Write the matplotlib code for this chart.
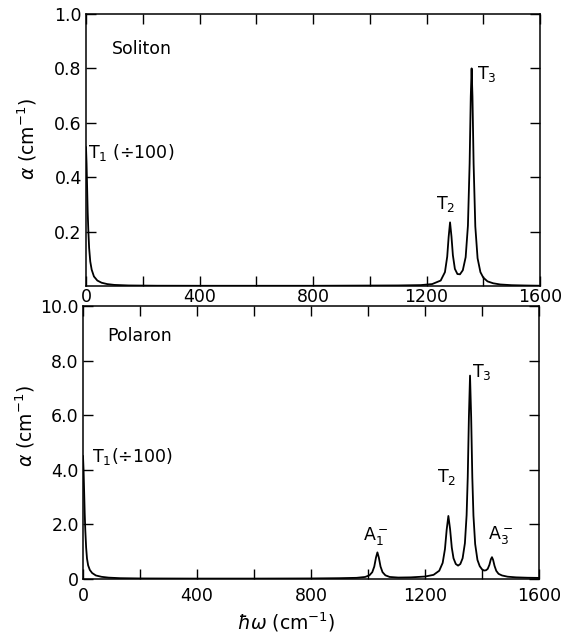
import matplotlib
matplotlib.use("Agg")
import matplotlib.pyplot as plt
from matplotlib.ticker import MultipleLocator, FixedLocator

# Soliton spectrum (top panel)
sol_w = [0, 2, 4, 6, 8, 11, 15, 20, 28, 40, 55, 75, 100, 150, 250, 400, 800, 1100,
         1180, 1220, 1250, 1265, 1273, 1278, 1283, 1288, 1293, 1300, 1309, 1318,
         1328, 1338, 1346, 1352, 1356, 1359, 1362, 1366, 1372, 1380, 1390, 1400,
         1415, 1435, 1460, 1500, 1550, 1600]
sol_a = [0.51, 0.45, 0.36, 0.27, 0.21, 0.14, 0.09, 0.06, 0.035, 0.02, 0.012, 0.007,
         0.004, 0.002, 0.001, 0.0008, 0.0008, 0.002,
         0.0033, 0.0071, 0.020, 0.051, 0.108, 0.180, 0.234, 0.182, 0.113, 0.063,
         0.044, 0.043, 0.058, 0.106, 0.222, 0.451, 0.696, 0.80, 0.696, 0.450,
         0.219, 0.102, 0.051, 0.031, 0.017, 0.010, 0.0056, 0.003, 0.0018, 0.001]

# Polaron spectrum (bottom panel)
pol_w = [0, 2, 4, 6, 8, 11, 14, 18, 24, 32, 45, 65, 90, 130, 200, 400, 600, 800,
         900, 960, 990, 1005, 1015, 1022, 1028, 1033, 1038, 1044, 1051, 1061, 1076,
         1106, 1150, 1200, 1230, 1250, 1262, 1270, 1276, 1282, 1288, 1294, 1300,
         1308, 1316, 1324, 1332, 1340, 1346, 1350, 1354, 1358, 1362, 1366, 1370,
         1376, 1384, 1392, 1400, 1407, 1414, 1420, 1426, 1431, 1435, 1439, 1444,
         1450, 1458, 1470, 1490, 1520, 1560, 1600]
pol_a = [4.5, 4.0, 3.2, 2.4, 1.8, 1.15, 0.75, 0.5, 0.33, 0.22, 0.13, 0.08, 0.05,
         0.03, 0.02, 0.015, 0.015, 0.02,
         0.03, 0.043, 0.075, 0.135, 0.25, 0.455, 0.785, 0.975, 0.785, 0.455, 0.25,
         0.135, 0.075, 0.053, 0.06, 0.09, 0.152, 0.303, 0.59, 1.095, 1.80, 2.31,
         1.83, 1.15, 0.76, 0.55, 0.49, 0.55, 0.76, 1.31, 2.34, 3.74, 5.92, 7.45,
         5.92, 3.73, 2.32, 1.28, 0.70, 0.47, 0.355, 0.31, 0.32, 0.37, 0.52, 0.72,
         0.80, 0.70, 0.48, 0.30, 0.19, 0.13, 0.084, 0.06, 0.046, 0.04]

x_ticks = [0, 400, 800, 1200, 1600]
x_tick_labels = ["0", "400", "800", "1200", "1600"]
sol_yticks = [0.2, 0.4, 0.6, 0.8, 1.0]
sol_ylabels = ["0.2", "0.4", "0.6", "0.8", "1.0"]
pol_yticks = [0, 2, 4, 6, 8, 10]
pol_ylabels = ["0", "2.0", "4.0", "6.0", "8.0", "10.0"]

fig = plt.figure(figsize=(5.71, 6.37), dpi=100)
ax1 = fig.add_axes([86 / 571, 1 - 286 / 637, 454 / 571, 272 / 637])
ax2 = fig.add_axes([83 / 571, 1 - 579 / 637, 456 / 571, 273 / 637])

fs = 12.5


def style(ax, pad_x):
    ax.set_xlim(0, 1600)
    ax.xaxis.set_major_locator(FixedLocator(x_ticks))
    ax.xaxis.set_minor_locator(MultipleLocator(200))
    ax.set_xticklabels(x_tick_labels)
    ax.tick_params(which="both", direction="in", top=True, right=True,
                   length=7.5, width=1.0, labelsize=fs)
    ax.tick_params(axis="x", pad=pad_x)
    ax.tick_params(axis="y", pad=3)
    for s in ax.spines.values():
        s.set_linewidth(1.1)
    ax.set_ylabel(r"$\alpha$ (cm$^{-1}$)", fontsize=fs + 1)


ax1.plot(sol_w, sol_a, color="black", lw=1.3)
ax1.set_ylim(0, 1.0)
ax1.set_yticks(sol_yticks)
ax1.set_yticklabels(sol_ylabels)
style(ax1, 1.5)
ax1.yaxis.set_label_coords(-0.104, 0.54)
ax1.text(92, 0.87, "Soliton", fontsize=fs, va="center")
ax1.text(7, 0.49, "T$_1$ (÷100)", fontsize=fs, va="center")
ax1.text(1269, 0.30, "T$_2$", fontsize=fs, va="center", ha="center")
ax1.text(1378, 0.78, "T$_3$", fontsize=fs, va="center")

ax2.plot(pol_w, pol_a, color="black", lw=1.3)
ax2.set_ylim(0, 10)
ax2.set_yticks(pol_yticks)
ax2.set_yticklabels(pol_ylabels)
style(ax2, 6)
ax2.yaxis.set_label_coords(-0.101, 0.56)
ax2.text(84, 8.9, "Polaron", fontsize=fs, va="center")
ax2.text(32, 4.47, "T$_1$(÷100)", fontsize=fs, va="center")
ax2.text(982, 1.57, "A$_1^-$", fontsize=fs, va="center")
ax2.text(1242, 3.73, "T$_2$", fontsize=fs, va="center")
ax2.text(1365, 7.6, "T$_3$", fontsize=fs, va="center")
ax2.text(1421, 1.6, "A$_3^-$", fontsize=fs, va="center")

fig.text(286 / 571, 1 - 622 / 637, r"$\hbar\omega$ (cm$^{-1}$)", fontsize=fs + 1,
         ha="center", va="center")

fig.savefig("out.png", dpi=100)
